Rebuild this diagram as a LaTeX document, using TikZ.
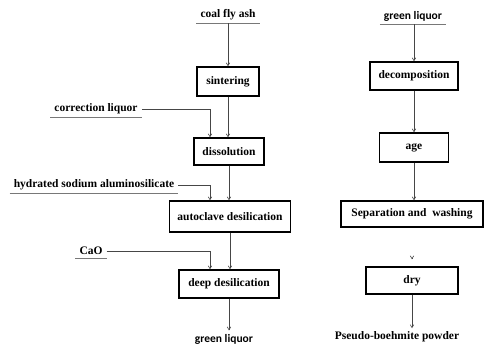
\documentclass[tikz,border=0pt]{standalone}
\usepackage{fontspec}
\setmainfont{Liberation Serif}
\newfontfamily\calfont{Carlito}
\usetikzlibrary{arrows.meta,calc}
\definecolor{inkgray}{RGB}{70,70,70}
\definecolor{linegray}{RGB}{120,120,120}

\begin{document}
\begin{tikzpicture}[x=1pt, y=-1pt,
            proc/.style={rectangle, draw=black, line width=1.3pt, fill=white, font=\fontsize{11.5}{13}\selectfont\bfseries, inner sep=0pt, align=center},
            feed/.style={font=\fontsize{11.5}{13}\selectfont\bfseries, inner xsep=4pt, inner ysep=3pt},
            uline/.style={draw=linegray, line width=0.8pt},
            arr/.style={draw=inkgray, line width=0.6pt, -{Straight Barb[length=3pt,width=3.5pt]}}]
            \useasboundingbox (0,0) rectangle (487,347);
            % left column
            \node [feed] (ash) at (228,15) {coal fly ash};
            \node [proc, minimum width=62pt, minimum height=29pt] (sint) at (228,81.5) {sintering};
            \node [proc, minimum width=70pt, minimum height=27pt] (diss) at (229,151.5) {dissolution};
            \node [proc, minimum width=121pt, minimum height=31pt] (auto) at (230,216.5) {autoclave desilication};
            \node [proc, minimum width=100pt, minimum height=28pt] (deep) at (229,284) {deep desilication};
            \node [font=\calfont\fontsize{11.5}{13}\selectfont\bfseries] (gl) at (224,339) {green liquor};
            \node [feed] (corr) at (96,109) {correction liquor};
            \node [feed] (hyd) at (94,185) {hydrated sodium aluminosilicate};
            \node [feed] (cao) at (91,251) {CaO};
            % right column
            \node [feed, font=\calfont\fontsize{11.5}{13}\selectfont\bfseries] (gl2) at (413,16) {green liquor};
            \node [proc, minimum width=88pt, minimum height=28pt] (dec) at (414,76) {decomposition};
            \node [proc, minimum width=69pt, minimum height=29pt] (age) at (414,147.5) {age};
            \node [proc, minimum width=142pt, minimum height=26pt] (sep) at (412,214) {Separation and\ \ washing};
            \node [proc, minimum width=92pt, minimum height=27pt] (dry) at (412,280.5) {dry};
            \node [font=\fontsize{11.5}{13}\selectfont\bfseries] (pb) at (397,337) {Pseudo-boehmite powder};

            \draw [uline] (ash.south west) -- (ash.south east);
            \draw [uline] (corr.south west) -- (corr.south east);
            \draw [uline] (hyd.south west) -- (hyd.south east);
            \draw [uline] (cao.south west) -- (cao.south east);
            \draw [uline] (gl2.south west) -- (gl2.south east);

            \path [arr] (ash.south -| sint.north) -- (sint.north);
            \path [arr] (sint) -- (sint.south |- diss.north);
            \path [arr] (diss) -- (diss.south |- auto.north);
            \path [arr] (auto.south) -- (auto.south |- deep.north);
            \path [arr] (deep) -- (deep.south |- gl.north);
            \path [arr] (corr.east) -| ($(diss.north)+(-19,0)$);
            \path [arr] (hyd.east) -| ($(auto.north)+(-20,0)$);
            \path [arr] (cao.east) -| ($(deep.north)+(-19,0)$);

            \path [arr] (gl2.south -| dec.north) -- (dec.north);
            \path [arr] (dec) -- (dec.south |- age.north);
            \path [arr] (age) -- (age.south |- sep.north);
            \path [arr, shorten <=30pt, shorten >=7pt] (sep.south) -- (sep.south |- dry.north);
            \path [arr] (dry) -- (dry.south |- pb.north);
        \end{tikzpicture}
\end{document}
